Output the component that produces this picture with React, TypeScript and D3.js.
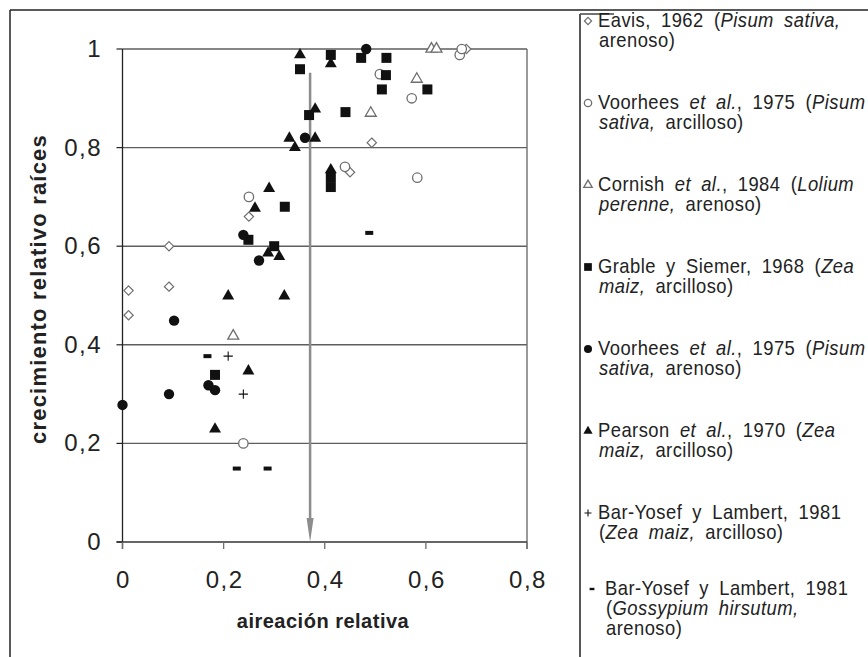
import * as d3 from 'd3';
import React from 'react';

// relative aeration (x) vs relative root growth (y), one pair of arrays per study
const eavisX = [0.012, 0.012, 0.092, 0.092, 0.25, 0.45, 0.493, 0.68];
const eavisY = [0.51, 0.46, 0.518, 0.6, 0.66, 0.75, 0.81, 1.0];

const voorheesArcX = [0.239, 0.25, 0.44, 0.509, 0.572, 0.583, 0.667, 0.671];
const voorheesArcY = [0.2, 0.7, 0.761, 0.949, 0.9, 0.739, 0.988, 1.0];

const cornishX = [0.219, 0.491, 0.582, 0.611, 0.621];
const cornishY = [0.418, 0.87, 0.939, 1.0, 1.0];

const grableX = [0.183, 0.249, 0.3, 0.321, 0.351, 0.369, 0.412, 0.412, 0.412, 0.441, 0.472, 0.513, 0.521, 0.522, 0.603];
const grableY = [0.339, 0.613, 0.6, 0.68, 0.959, 0.866, 0.988, 0.74, 0.72, 0.872, 0.982, 0.918, 0.947, 0.982, 0.918];

const voorheesArenX = [0.0, 0.092, 0.102, 0.17, 0.183, 0.239, 0.27, 0.361, 0.482];
const voorheesArenY = [0.278, 0.3, 0.449, 0.318, 0.308, 0.623, 0.571, 0.82, 1.0];

const pearsonX = [0.183, 0.209, 0.249, 0.262, 0.288, 0.29, 0.31, 0.32, 0.33, 0.341, 0.351, 0.381, 0.381, 0.412, 0.412];
const pearsonY = [0.229, 0.499, 0.347, 0.677, 0.586, 0.717, 0.579, 0.499, 0.819, 0.8, 0.988, 0.878, 0.819, 0.97, 0.755];

const barYosefMaizX = [0.209, 0.239];
const barYosefMaizY = [0.377, 0.3];

const barYosefGossX = [0.168, 0.226, 0.287, 0.488];
const barYosefGossY = [0.377, 0.149, 0.149, 0.627];

const xTicks = [0, 0.2, 0.4, 0.6, 0.8];
const yTicks = [0, 0.2, 0.4, 0.6, 0.8, 1];
const arrowX = 0.371;
const arrowTop = 0.952;

// legend lines: [text, italic]
const legendLines = [
  [[['Eavis, 1962 (', false], ['Pisum sativa,', true]], [['arenoso)', false]]],
  [[['Voorhees ', false], ['et al.', true], [', 1975 (', false], ['Pisum', true]], [['sativa,', true], [' arcilloso)', false]]],
  [[['Cornish ', false], ['et al.', true], [', 1984 (', false], ['Lolium', true]], [['perenne,', true], [' arenoso)', false]]],
  [[['Grable y Siemer, 1968 (', false], ['Zea', true]], [['maiz,', true], [' arcilloso)', false]]],
  [[['Voorhees ', false], ['et al.', true], [', 1975 (', false], ['Pisum', true]], [['sativa,', true], [' arenoso)', false]]],
  [[['Pearson ', false], ['et al.', true], [', 1970 (', false], ['Zea', true]], [['maiz,', true], [' arcilloso)', false]]],
  [[['Bar-Yosef y Lambert, 1981', false]], [['(', false], ['Zea maiz,', true], [' arcilloso)', false]]],
  [[['Bar-Yosef y Lambert, 1981', false]], [['(', false], ['Gossypium hirsutum,', true]], [['arenoso)', false]]],
];

const x = d3.scaleLinear().domain([0, 0.8]).range([122.5, 527]);
const y = d3.scaleLinear().domain([0, 1]).range([542, 49]);
const fmt = (d) => (d === 0 || d === 1 ? String(d) : d3.format('.1f')(d).replace('.', ','));

const grey = '#6e6e6e';
const ink = '#111';

const sym = (type, size) => d3.symbol().type(type).size(size)();

const series = [
  { xs: eavisX, ys: eavisY, kind: 'diamond' },
  { xs: voorheesArcX, ys: voorheesArcY, kind: 'ocircle' },
  { xs: cornishX, ys: cornishY, kind: 'otri' },
  { xs: grableX, ys: grableY, kind: 'square' },
  { xs: voorheesArenX, ys: voorheesArenY, kind: 'circle' },
  { xs: pearsonX, ys: pearsonY, kind: 'tri' },
  { xs: barYosefMaizX, ys: barYosefMaizY, kind: 'plus' },
  { xs: barYosefGossX, ys: barYosefGossY, kind: 'dash' },
];

function Marker({ kind, cx, cy, s = 1 }) {
  const t = `translate(${cx},${cy})`;
  switch (kind) {
    case 'diamond':
      return <path transform={t} d={sym(d3.symbolDiamond2, 55 * s)} fill="white" stroke={grey} strokeWidth={1.2} />;
    case 'ocircle':
      return <path transform={t} d={sym(d3.symbolCircle, 70 * s)} fill="white" stroke={grey} strokeWidth={1.3} />;
    case 'otri':
      return <path transform={t} d={sym(d3.symbolTriangle2, 86 * s)} fill="white" stroke={grey} strokeWidth={1.3} />;
    case 'square':
      return <path transform={t} d={sym(d3.symbolSquare, 100 * s)} fill={ink} />;
    case 'circle':
      return <path transform={t} d={sym(d3.symbolCircle, 85 * s)} fill={ink} />;
    case 'tri':
      return <path transform={t} d={sym(d3.symbolTriangle, 62 * s)} fill={ink} />;
    case 'plus':
      return <path transform={t} d={sym(d3.symbolPlus, 30 * s)} fill="none" stroke={ink} strokeWidth={1.1} />;
    default:
      return <rect x={cx - 4 * s} y={cy - 2 * s} width={8 * s} height={4 * s} fill={ink} />;
  }
}

export default function App() {
  const font = 'Liberation Sans, Arial, Helvetica, sans-serif';
  const legTop = 27;
  const legStep = 82;
  const lineGap = 20;

  return (
    <svg width={868} height={657} style={{ position: 'absolute', left: 0, top: 0, display: 'block', background: 'white' }} fontFamily={font}>
      {/* outer frame */}
      <line x1={10} y1={10} x2={868} y2={10} stroke="#222" strokeWidth={1.5} />
      <line x1={10} y1={10} x2={10} y2={657} stroke="#222" strokeWidth={1.5} />
      <line x1={580} y1={14} x2={580} y2={657} stroke="#444" strokeWidth={1.8} />
      <line x1={580} y1={14} x2={614} y2={14} stroke="#444" strokeWidth={1.5} />

      {/* grid */}
      {yTicks.filter((d) => d > 0).map((d) => (
        <line key={d} x1={x(0)} x2={x(0.8)} y1={y(d)} y2={y(d)} stroke="#5e5e5e" strokeWidth={1.4} />
      ))}
      <line x1={x(0.8)} x2={x(0.8)} y1={y(1)} y2={y(0) + 7} stroke={grey} strokeWidth={1.4} />

      {/* axes */}
      <line x1={x(0)} x2={x(0)} y1={y(1)} y2={y(0) + 7} stroke="#222" strokeWidth={1.3} />
      <line x1={x(0) - 6} x2={x(0.8)} y1={y(0)} y2={y(0)} stroke="#333" strokeWidth={1.3} />
      {yTicks.map((d) => (
        <g key={d}>
          <line x1={x(0) - 6} x2={x(0)} y1={y(d)} y2={y(d)} stroke="#222" strokeWidth={1.2} />
          <text x={102} y={y(d) + 8} textAnchor="end" fontSize={24} fill="#222" letterSpacing={1.5}>{fmt(d)}</text>
        </g>
      ))}
      {xTicks.map((d) => (
        <g key={d}>
          <line x1={x(d)} x2={x(d)} y1={y(0)} y2={y(0) + 7} stroke={grey} strokeWidth={1.3} />
          <text x={x(d) + 1} y={588} textAnchor="middle" fontSize={24} fill="#222" letterSpacing={1.5}>{fmt(d)}</text>
        </g>
      ))}
      <text x={323} y={628} textAnchor="middle" fontSize={20} fontWeight="bold" fill="#222" letterSpacing={0.5}>aireación relativa</text>
      <text transform="translate(46,289) rotate(-90)" textAnchor="middle" fontSize={22} fontWeight="bold" fill="#222" letterSpacing={1.2}>crecimiento relativo raíces</text>

      {/* reference arrow */}
      <line x1={x(arrowX)} x2={x(arrowX)} y1={y(arrowTop)} y2={y(0) - 20} stroke="#8c8c8c" strokeWidth={2.5} />
      <path d={`M${x(arrowX) - 3.5},${y(0) - 24}L${x(arrowX) + 3.5},${y(0) - 24}L${x(arrowX)},${y(0)}Z`} fill="#8c8c8c" />

      {/* points */}
      {series.map((s, si) => (
        <g key={si}>
          {s.xs.map((v, i) => (
            <Marker key={i} kind={s.kind} cx={x(v)} cy={y(s.ys[i])} />
          ))}
        </g>
      ))}

      {/* legend */}
      {legendLines.map((lines, i) => {
        const last = i === legendLines.length - 1;
        const top = legTop + i * legStep - (last ? 6 : 0);
        const mx = last ? 592 : 588;
        const tx = last ? 605 : 598;
        return (
          <g key={i}>
            <Marker kind={series[i].kind} cx={mx} cy={top - 6} s={0.6} />
            {lines.map((segs, j) => (
              <text key={j} transform={`translate(${j === 0 ? tx : tx + 1},${top + j * lineGap}) scale(0.92,1)`} fontSize={20} fill="#222" wordSpacing={5} letterSpacing={0.5}>
                {segs.map(([t, it], k) => (
                  <tspan key={k} fontStyle={it ? 'italic' : 'normal'}>{t}</tspan>
                ))}
              </text>
            ))}
          </g>
        );
      })}
    </svg>
  );
}
